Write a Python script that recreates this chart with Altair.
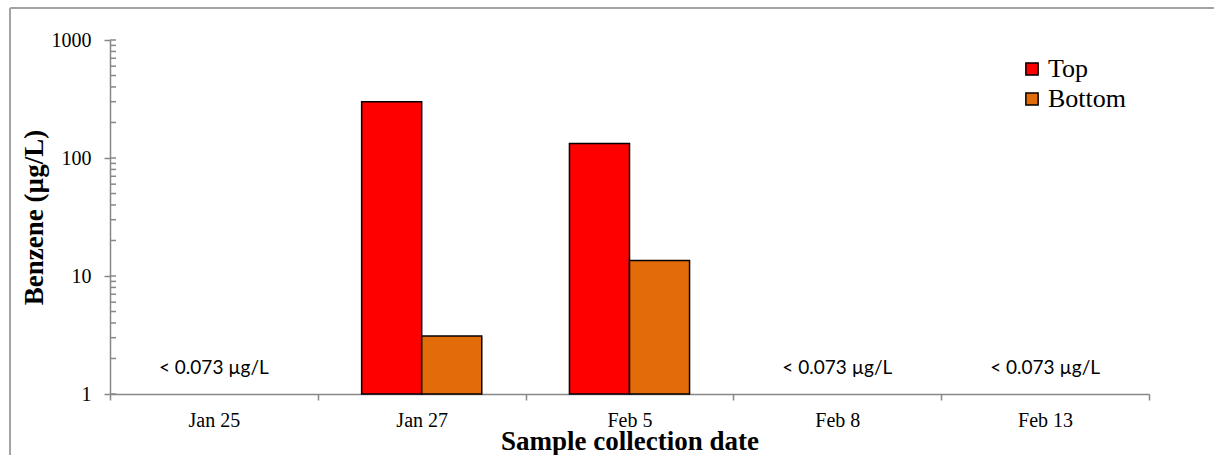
import altair as alt
import pandas as pd

# Sample dates and benzene concentrations (µg/L); None = below detection limit
dates = ["Jan 25", "Jan 27", "Feb 5", "Feb 8", "Feb 13"]
top_vals = [None, 300, 133, None, None]
bottom_vals = [None, 3.1, 13.5, None, None]
positions = ["Top", "Bottom"]
colors = ["#FF0000", "#E36C0A"]
nd_text = "< 0.073 µg/L"
nd_level = 1.65
y_ticks = [1, 10, 100, 1000]
minor_ticks = [m * d for d in (1, 10, 100) for m in range(1, 10)] + [1000]

rows = []
for d, t, b in zip(dates, top_vals, bottom_vals):
    if t is not None:
        rows.append({"date": d, "pos": "Top", "value": t})
    if b is not None:
        rows.append({"date": d, "pos": "Bottom", "value": b})
bars_df = pd.DataFrame(rows)

nd_df = pd.DataFrame({"date": [d for d, t in zip(dates, top_vals) if t is None]})
nd_df["label"] = nd_text

ticks_df = pd.DataFrame({"v": minor_ticks})

serif = "Liberation Serif"
axis_grey = "#878787"
W, H = 1039, 354

x_scale = alt.Scale(domain=dates, paddingInner=0, paddingOuter=0)
y_scale = alt.Scale(type="log", domain=[1, 1000])

bars = alt.Chart(bars_df).mark_bar(stroke="black", strokeWidth=1.5).encode(
    x=alt.X("date:N", scale=x_scale, sort=dates,
            axis=alt.Axis(title="Sample collection date", labelAngle=0,
                          tickBand="extent", tickSize=6, labelPadding=26,
                          labelBaseline="alphabetic",
                          titleX=W / 2, titleY=55, titleAlign="center",
                          titleBaseline="alphabetic")),
    xOffset=alt.XOffset("pos:N", sort=positions,
                        scale=alt.Scale(domain=positions, paddingInner=0, paddingOuter=0.73)),
    y=alt.Y("value:Q", scale=y_scale,
            axis=alt.Axis(title="Benzene (µg/L)", values=y_ticks, format="d",
                          tickSize=6, labelPadding=13,
                          titleAngle=270, titleX=-68, titleY=H / 2,
                          titleAlign="center", titleBaseline="alphabetic")),
    y2=alt.datum(1),
    color=alt.Color("pos:N", sort=positions,
                    scale=alt.Scale(domain=positions, range=colors),
                    legend=alt.Legend(title=None, orient="none", legendX=909, legendY=16,
                                      symbolType="square", symbolSize=150,
                                      symbolStrokeColor="black", symbolStrokeWidth=1.5,
                                      labelFont=serif, labelFontSize=26, labelColor="black",
                                      labelOffset=3, rowPadding=4)),
)

nd_labels = alt.Chart(nd_df).mark_text(font="Lato", fontSize=19, color="black",
                                       baseline="middle").encode(
    x=alt.X("date:N", scale=x_scale, sort=dates),
    y=alt.datum(nd_level, scale=y_scale),
    text="label:N",
)

inner_ticks = alt.Chart(ticks_df).mark_rule(color=axis_grey, strokeWidth=1.5).encode(
    y=alt.Y("v:Q", scale=y_scale),
    x=alt.value(0),
    x2=alt.value(6),
)

# outer chart frame
frame_top = alt.Chart(nd_df).mark_rule(color="#a3a3a3", strokeWidth=2).encode(
    x=alt.value(-100), x2=alt.value(1110), y=alt.value(-32))
frame_left = alt.Chart(nd_df).mark_rule(color="#a3a3a3", strokeWidth=2).encode(
    x=alt.value(-100), y=alt.value(-32), y2=alt.value(420))

chart = alt.layer(frame_top, frame_left, bars, nd_labels, inner_ticks).properties(
    width=W, height=H,
    autosize=alt.AutoSizeParams(type="none"),
    padding={"left": 110, "top": 40, "right": 65, "bottom": 61},
    background="white",
).configure_view(stroke=None).configure_axis(
    domainColor=axis_grey, domainWidth=1.5, tickColor=axis_grey, tickWidth=1.5,
    grid=False, labelFont=serif, labelFontSize=20, labelColor="black",
    titleFont=serif, titleFontSize=27, titleFontWeight="bold", titleColor="black",
).configure_legend(labelFont=serif, labelFontSize=26, labelColor="black")

chart.save("out.html", embed_options={"renderer": "svg", "actions": False})
